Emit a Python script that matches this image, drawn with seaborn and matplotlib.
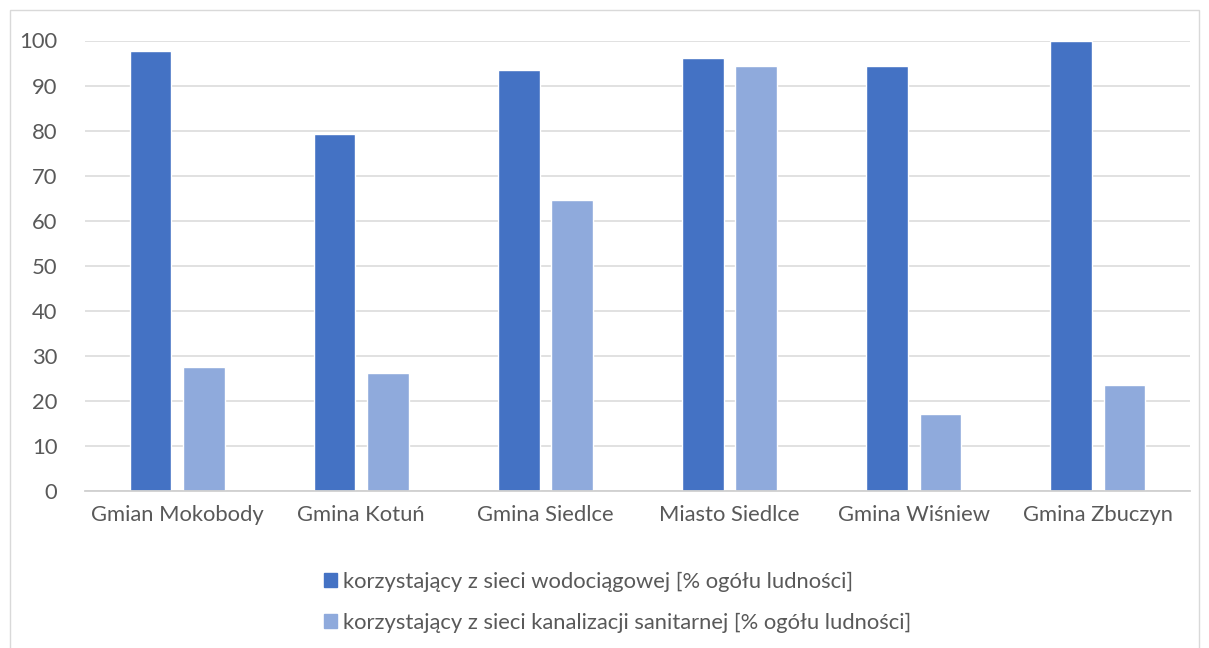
import matplotlib.pyplot as plt
import matplotlib.patches as mpatches
import pandas as pd
import seaborn as sns

# dane
gminy = [
    "Gmian Mokobody",
    "Gmina Kotuń",
    "Gmina Siedlce",
    "Miasto Siedlce",
    "Gmina Wiśniew",
    "Gmina Zbuczyn",
]
wodociag = [97.7, 79.2, 93.4, 96.2, 94.3, 99.9]
kanalizacja = [27.5, 26.3, 64.7, 94.3, 17.0, 23.5]
serie = [
    "korzystający z sieci wodociągowej [% ogółu ludności]",
    "korzystający z sieci kanalizacji sanitarnej [% ogółu ludności]",
]
kolory = ["#4472C4", "#8FAADC"]

df = pd.DataFrame(
    {
        "gmina": gminy * 2,
        "wartosc": wodociag + kanalizacja,
        "seria": [serie[0]] * len(gminy) + [serie[1]] * len(gminy),
    }
)

sns.set_theme(style="white")
plt.rcParams["font.family"] = ["Lato", "DejaVu Sans"]
txt = "#595959"
fs = 15.8

fig = plt.figure(figsize=(12.09, 6.48), dpi=100)
ax = fig.add_axes([85 / 1209, 1 - 491 / 648, (1190 - 85) / 1209, (491 - 40.5) / 648])

sns.barplot(
    data=df,
    x="gmina",
    y="wartosc",
    hue="seria",
    palette=kolory,
    saturation=1,
    width=0.58,
    gap=0.22,
    order=gminy,
    hue_order=serie,
    ax=ax,
    legend=False,
)

ax.set_ylim(0, 100)
ax.set_xlim(-0.5, len(gminy) - 0.5)
ax.set_yticks(range(0, 101, 10))
ax.yaxis.grid(True, color="#d9d9d9", linewidth=1.1)
ax.set_axisbelow(True)
ax.set_xlabel("")
ax.set_ylabel("")
for s in ["top", "right", "left"]:
    ax.spines[s].set_visible(False)
ax.spines["bottom"].set_color("#d0d0d0")
ax.spines["bottom"].set_linewidth(1.3)
ax.tick_params(axis="both", length=0, labelsize=fs, colors=txt)
ax.tick_params(axis="x", pad=10)
ax.tick_params(axis="y", pad=20)

uchwyty = [mpatches.Patch(color=c, label=s) for c, s in zip(kolory, serie)]
fig.legend(
    handles=uchwyty,
    loc="upper left",
    bbox_to_anchor=(304 / 1209, 1 - 552 / 648),
    frameon=False,
    fontsize=fs,
    labelcolor=txt,
    handlelength=0.62,
    handleheight=0.62,
    handletextpad=0.25,
    labelspacing=0.95,
)

# ramka wokol wykresu
fig.patches.append(
    mpatches.Rectangle(
        (10 / 1209, -0.05),
        1189 / 1209,
        1.05 - 10 / 648,
        transform=fig.transFigure,
        fill=False,
        edgecolor="#d9d9d9",
        linewidth=1,
    )
)

plt.savefig("out.png", dpi=100)
